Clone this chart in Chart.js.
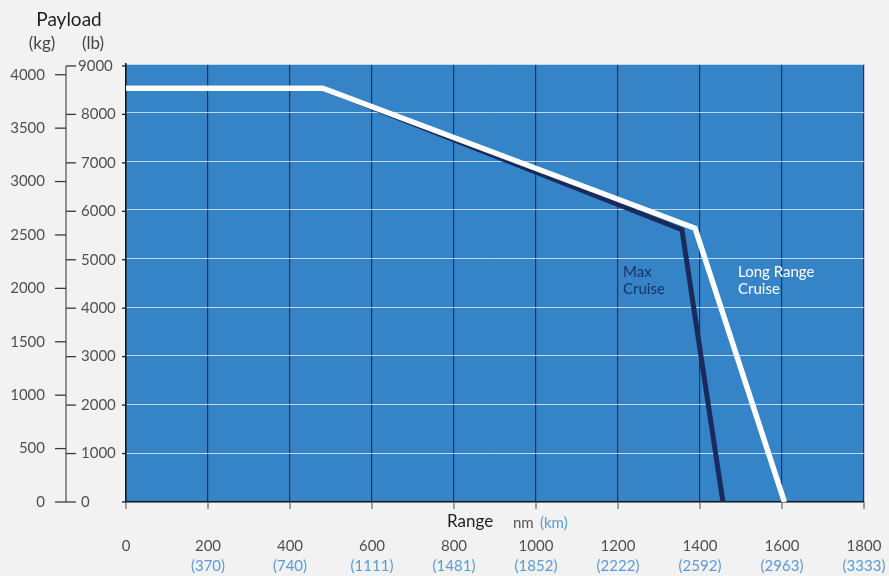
<!DOCTYPE html>
<html>
<head>
<meta charset="utf-8">
<script src="https://cdn.jsdelivr.net/npm/chart.js@4"></script>
<style>
html,body{margin:0;padding:0;background:#f2f2f2;}
#wrap{width:889px;height:576px;position:relative;}
</style>
</head>
<body>
<div id="wrap"><canvas id="c" width="889" height="576"></canvas></div>
<script>
// ---- data ----
const longRangeNm = [0, 480, 1388, 1606];
const longRangeLb = [8540, 8540, 5650, 0];
const maxCruiseNm = [0, 480, 1356, 1456];
const maxCruiseLb = [8540, 8540, 5620, 0];
const rangeTicksNm = [0, 200, 400, 600, 800, 1000, 1200, 1400, 1600, 1800];
const rangeTicksKm = ['', '(370)', '(740)', '(1111)', '(1481)', '(1852)', '(2222)', '(2592)', '(2963)', '(3333)'];
const lbTicks = [0, 1000, 2000, 3000, 4000, 5000, 6000, 7000, 8000, 9000];
const kgTicks = [0, 500, 1000, 1500, 2000, 2500, 3000, 3500, 4000];
const LB_PER_KG = 2.20462;

const FONT = 'Lato, "Open Sans", sans-serif';
const toPts = (xs, ys) => xs.map((x, i) => ({x: x, y: ys[i]}));

const bgPlugin = {
  id: 'bg',
  beforeDraw(chart) {
    const {ctx, chartArea: a} = chart;
    ctx.save();
    ctx.fillStyle = '#3484c7';
    ctx.fillRect(a.left, a.top, a.right - a.left, a.bottom - a.top);
    ctx.restore();
  }
};

const axesPlugin = {
  id: 'customAxes',
  afterDraw(chart) {
    const {ctx, chartArea: a} = chart;
    const xs = chart.scales.x, ys = chart.scales.y;
    ctx.save();
    const axX = 66;
    ctx.strokeStyle = '#6e6e6e';
    ctx.lineWidth = 1.5;
    ctx.beginPath();
    ctx.moveTo(axX, ys.getPixelForValue(9000));
    ctx.lineTo(axX, ys.getPixelForValue(0));
    ctx.stroke();
    ctx.font = '15px ' + FONT;
    ctx.fillStyle = '#505050';
    ctx.textBaseline = 'middle';
    ctx.textAlign = 'left';
    lbTicks.forEach(v => {
      const py = ys.getPixelForValue(v);
      ctx.strokeStyle = '#3a3a3a';
      ctx.lineWidth = 1.3;
      ctx.beginPath(); ctx.moveTo(axX, py); ctx.lineTo(axX + 10, py); ctx.stroke();
      ctx.fillText(String(v), v === 9000 ? 78 : 81, py);
      ctx.strokeStyle = '#1a1a1a';
      ctx.beginPath(); ctx.moveTo(a.left - 4, py); ctx.lineTo(a.left, py); ctx.stroke();
    });
    ctx.textAlign = 'right';
    kgTicks.forEach(v => {
      const py = ys.getPixelForValue(v * LB_PER_KG);
      ctx.strokeStyle = '#3a3a3a';
      ctx.lineWidth = 1.3;
      ctx.beginPath(); ctx.moveTo(axX - 11, py); ctx.lineTo(axX, py); ctx.stroke();
      ctx.fillText(String(v), 45, py);
    });
    ctx.textAlign = 'center';
    rangeTicksNm.forEach((v, i) => {
      const px = xs.getPixelForValue(v);
      ctx.strokeStyle = '#707070';
      ctx.lineWidth = 1.3;
      ctx.beginPath(); ctx.moveTo(px, a.bottom); ctx.lineTo(px, a.bottom + 7); ctx.stroke();
      ctx.fillStyle = '#505050';
      ctx.font = '15px ' + FONT;
      ctx.fillText(String(v), px, 546);
      ctx.fillStyle = '#5b9bd5';
      ctx.fillText(rangeTicksKm[i], px, 566);
    });
    ctx.fillStyle = '#1e1e1e';
    ctx.font = '19px ' + FONT;
    ctx.textAlign = 'center';
    ctx.fillText('Payload', 69, 20);
    ctx.fillStyle = '#444';
    ctx.font = '17px ' + FONT;
    ctx.fillText('(kg)', 42, 44);
    ctx.fillText('(lb)', 93, 44);
    ctx.textAlign = 'left';
    ctx.fillStyle = '#1e1e1e';
    ctx.font = '17px ' + FONT;
    ctx.fillText('Range', 447, 522);
    ctx.font = '15px ' + FONT;
    ctx.fillStyle = '#555';
    ctx.fillText('nm', 513, 523);
    ctx.fillStyle = '#5b9bd5';
    ctx.fillText('(km)', 540, 523);
    ctx.font = '15px ' + FONT;
    ctx.fillStyle = '#1d2e5e';
    ctx.fillText('Max', 623, 272);
    ctx.fillText('Cruise', 623, 289);
    ctx.fillStyle = '#ffffff';
    ctx.fillText('Long Range', 738, 272);
    ctx.fillText('Cruise', 738, 289);
    ctx.restore();
  }
};

new Chart(document.getElementById('c'), {
  type: 'line',
  data: {
    datasets: [
      {
        label: 'Long Range Cruise',
        data: toPts(longRangeNm, longRangeLb),
        borderColor: '#ffffff',
        borderWidth: 5.5,
        pointRadius: 0,
        tension: 0,
        order: 1
      },
      {
        label: 'Max Cruise',
        data: toPts(maxCruiseNm, maxCruiseLb),
        borderColor: '#1b2a5c',
        borderWidth: 5,
        pointRadius: 0,
        tension: 0,
        order: 2
      }
    ]
  },
  options: {
    responsive: false,
    animation: false,
    devicePixelRatio: 1,
    layout: {padding: {left: 126, right: 25, top: 64, bottom: 74}},
    plugins: {legend: {display: false}, tooltip: {enabled: false}},
    scales: {
      x: {
        type: 'linear', min: 0, max: 1800,
        ticks: {display: false, stepSize: 200},
        grid: {color: '#203550', lineWidth: 1.2, drawTicks: false},
        border: {display: true, color: '#151515', width: 1.5},
        afterFit(s) { s.height = 0; }
      },
      y: {
        type: 'linear', min: 0, max: 9040,
        ticks: {display: false, stepSize: 1000},
        grid: {color: 'rgba(225,235,250,0.8)', lineWidth: 1, drawTicks: false},
        border: {display: true, color: '#151515', width: 1.5},
        afterFit(s) { s.width = 0; }
      }
    }
  },
  plugins: [bgPlugin, axesPlugin]
});
</script>
</body>
</html>
